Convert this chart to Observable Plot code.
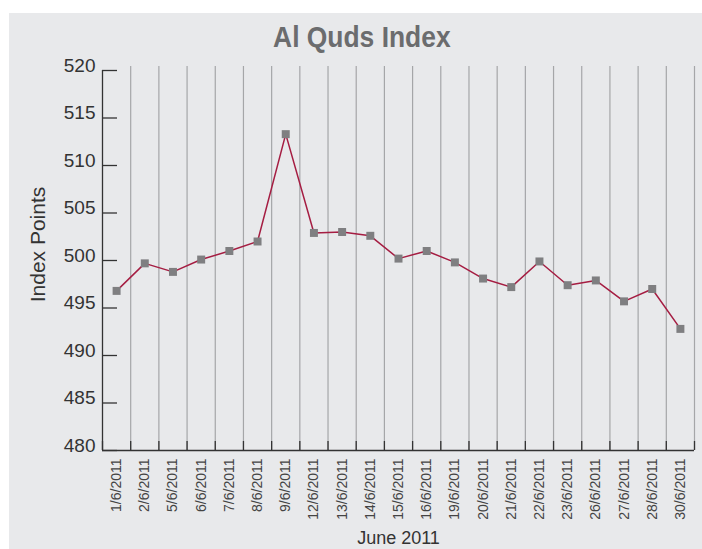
<!DOCTYPE html>
<html><head><meta charset="utf-8">
<script src="https://cdn.jsdelivr.net/npm/d3@7"></script>
<script src="https://cdn.jsdelivr.net/npm/@observablehq/plot@0.6"></script>
<style>
html,body{margin:0;padding:0;background:#fff;}
#panel{position:absolute;left:9px;top:13px;width:693px;height:536px;background:#e8e9eb;overflow:hidden;}
#title{position:absolute;left:-9px;top:9px;width:724px;text-align:center;font-family:"Liberation Sans",Arial,sans-serif;font-weight:bold;font-size:30px;line-height:30px;color:#6b6c6e;}
#title span{display:inline-block;transform:scaleX(0.88);transform-origin:center;}
#chart{position:absolute;left:0;top:0;}
</style></head><body>
<div id="panel"><div id="chart"></div><div id="title"><span>Al Quds Index</span></div></div>
<script>
const dates = ["1/6/2011","2/6/2011","5/6/2011","6/6/2011","7/6/2011","8/6/2011","9/6/2011","12/6/2011","13/6/2011","14/6/2011","15/6/2011","16/6/2011","19/6/2011","20/6/2011","21/6/2011","22/6/2011","23/6/2011","26/6/2011","27/6/2011","28/6/2011","30/6/2011"];
const values = [496.8,499.7,498.8,500.1,501.0,502.0,513.3,502.9,503.0,502.6,500.2,501.0,499.8,498.1,497.2,499.9,497.4,497.9,495.7,497.0,492.8];
const yTicks = [480,485,490,495,500,505,510,515,520];
const yLabel = "Index Points";
const xLabel = "June 2011";

const data = dates.map((d, i) => ({i, date: d, value: values[i]}));
const bounds = d3.range(dates.length + 1).map(k => k - 0.5);

const chart = Plot.plot({
  width: 693, height: 536,
  marginLeft: 93, marginRight: 8, marginTop: 57, marginBottom: 99,
  style: {background: "transparent", color: "#333", fontFamily: "'Liberation Sans', Arial, sans-serif"},
  x: {type: "linear", domain: [-0.5, dates.length - 0.5]},
  y: {domain: [480, 520]},
  marks: [
    Plot.ruleX(bounds.slice(1), {stroke: "#a5a6a8", strokeWidth: 1.2, insetTop: -4}),
    Plot.ruleX(bounds, {y1: 480, y2: 480.95, stroke: "#333", strokeWidth: 1.3}),
    Plot.ruleY([480], {stroke: "#333", strokeWidth: 1.3}),
    Plot.ruleX([-0.5], {stroke: "#333", strokeWidth: 1.3}),
    Plot.axisY({ticks: yTicks, tickSize: -15, tickFormat: () => "", strokeWidth: 1.3, label: null}),
    Plot.axisY({ticks: yTicks, tickSize: 0, tickPadding: 7, dy: -5, fontSize: 19, label: null}),
    Plot.axisX({ticks: d3.range(dates.length), tickFormat: i => dates[i], tickRotate: -90, tickSize: 0, tickPadding: 8, fontSize: 14, fill: "#444", label: null}),
    Plot.line(data, {x: "i", y: "value", stroke: "#a51d42", strokeWidth: 1.5}),
    Plot.dot(data, {x: "i", y: "value", symbol: "square", r: 4.5, fill: "#7f7f81"}),
    Plot.text([yLabel], {frameAnchor: "left", textAnchor: "middle", rotate: -90, dx: -64, dy: -16, fontSize: 21, fill: "#333"}),
    Plot.text([xLabel], {frameAnchor: "bottom", dy: 93, fontSize: 18, fill: "#333"})
  ]
});
document.getElementById("chart").appendChild(chart);
</script>
</body></html>
